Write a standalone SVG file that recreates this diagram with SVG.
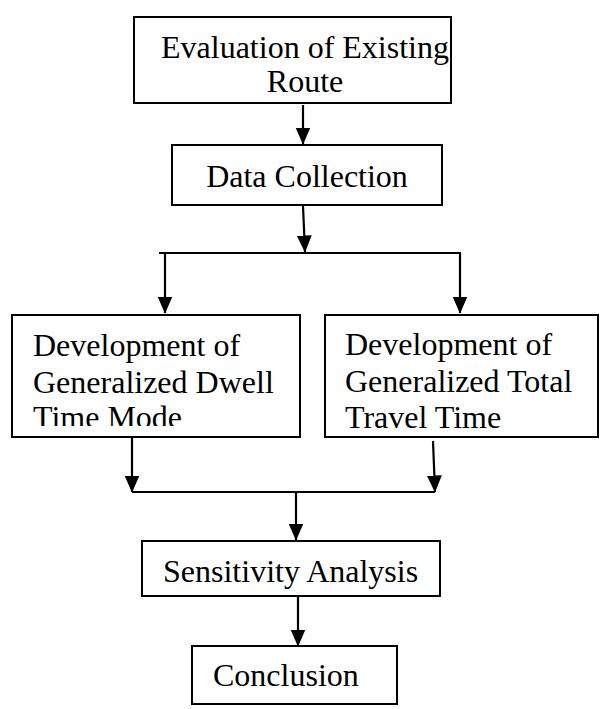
<svg xmlns="http://www.w3.org/2000/svg" width="605" height="709" viewBox="0 0 605 709">
<style>
.box{fill:#fff;stroke:#000;stroke-width:2}
.t{font-family:"Liberation Serif","Times New Roman",serif;font-size:32px;fill:#000}
.c{fill:none;stroke:#000;stroke-width:2.2}
</style>
<defs>
<marker id="ah" markerUnits="userSpaceOnUse" markerWidth="17" markerHeight="16" viewBox="0 0 17 16" refX="16.5" refY="8" orient="auto">
<path d="M0,0.5 L17,8 L0,15.5 Z" fill="#000"/>
</marker>
<clipPath id="cp1"><rect x="134" y="17" width="317" height="75"/></clipPath>
<clipPath id="cp3"><rect x="12" y="315" width="288" height="111"/></clipPath>
<clipPath id="cp4"><rect x="325" y="315" width="273" height="113"/></clipPath>
</defs>
<g id="connectors">
<path class="c" d="M303,105 L303,144" marker-end="url(#ah)"/>
<path class="c" d="M303,206 L305,252" marker-end="url(#ah)"/>
<path class="c" d="M159,253 L461,253"/>
<path class="c" d="M165,253 L165,313" marker-end="url(#ah)"/>
<path class="c" d="M460,253 L460,313" marker-end="url(#ah)"/>
<path class="c" d="M132,438 L132,492" marker-end="url(#ah)"/>
<path class="c" d="M433,441 L435,492" marker-end="url(#ah)"/>
<path class="c" d="M132,492 L435,492"/>
<path class="c" d="M296,492 L296,540" marker-end="url(#ah)"/>
<path class="c" d="M298,597 L298,646" marker-end="url(#ah)"/>
</g>
<g id="n1">
<rect class="box" x="134" y="17" width="317" height="86"/>
<g clip-path="url(#cp1)">
<text class="t" x="305" y="57.5" text-anchor="middle">Evaluation of Existing</text>
<text class="t" x="305" y="92" text-anchor="middle">Route</text>
</g>
</g>
<g id="n2">
<rect class="box" x="172" y="145" width="270" height="60"/>
<text class="t" x="307" y="187" text-anchor="middle">Data Collection</text>
</g>
<g id="n3">
<rect class="box" x="12" y="315" width="288" height="122"/>
<g clip-path="url(#cp3)">
<text class="t" x="33" y="356">Development of</text>
<text class="t" x="33" y="392.5">Generalized Dwell</text>
<text class="t" x="33" y="428">Time Mode</text>
</g>
</g>
<g id="n4">
<rect class="box" x="325" y="315" width="273" height="122"/>
<g clip-path="url(#cp4)">
<text class="t" x="345" y="355">Development of</text>
<text class="t" x="345" y="392">Generalized Total</text>
<text class="t" x="345" y="428">Travel Time</text>
</g>
</g>
<g id="n5">
<rect class="box" x="142" y="541" width="298" height="55"/>
<text class="t" x="163" y="582">Sensitivity Analysis</text>
</g>
<g id="n6">
<rect class="box" x="192" y="646" width="205" height="58"/>
<text class="t" x="213" y="686">Conclusion</text>
</g>
</svg>
